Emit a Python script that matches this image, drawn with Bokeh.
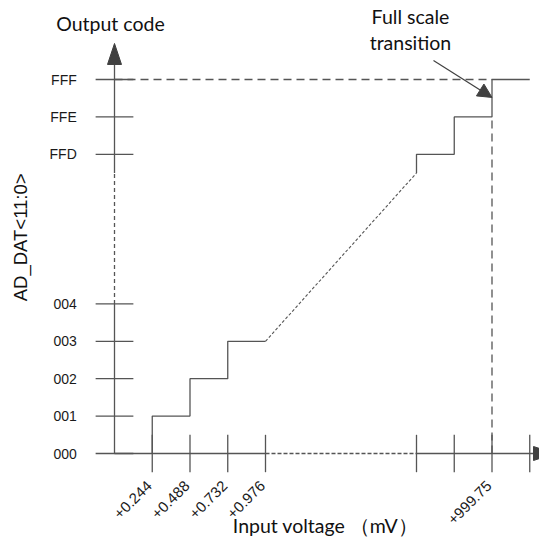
from bokeh.plotting import figure
from bokeh.models import Range1d, Arrow, NormalHead
from bokeh.core.properties import value
from bokeh.embed import file_html
from bokeh.resources import INLINE

# ---------------- data ----------------
code_labels = ["000", "001", "002", "003", "004", "FFD", "FFE", "FFF"]
code_pos = [0, 1, 2, 3, 4, 8, 9, 10]
volt_labels = ["+0.244", "+0.488", "+0.732", "+0.976", "", "", "+999.75", ""]
volt_pos = [1, 2, 3, 4, 8, 9, 10, 11]
low_transitions = [1, 2, 3, 4]          # +0.244 .. +0.976
high_transitions = [8, 9, 10]           # ... +999.75 (full scale)
full_scale_x = 10
x_end = 11

# ---------------- geometry (pixel scale of one slot) ----------------
W, H = 539, 537
SX, SY = 37.75, 37.4        # px per slot
OX, OY = 114.0, 453.0       # canvas px of slot origin
px_x = 1.0 / SX
px_y = 1.0 / SY

p = figure(width=W, height=H,
           x_range=Range1d(-OX / SX, (W - OX) / SX),
           y_range=Range1d(-(H - OY) / SY, OY / SY),
           output_backend="svg", toolbar_location=None,
           x_axis_type=None, y_axis_type=None,
           min_border=0, outline_line_color=None)
p.background_fill_color = "white"
p.border_fill_color = "white"

LC = "#555555"
HC = "#404040"
LW = 1.3

# ---------------- axes ----------------
half_gap_lo = (code_pos[4] + code_pos[3]) / 2 + 0.5    # 4.5
half_gap_hi = code_pos[5] - 0.5                        # 7.5
y_tip = 10.963
y_base = y_tip - 21 * px_y
p.line([0, 0], [0, half_gap_lo], line_color=LC, line_width=LW)
p.line([0, 0], [half_gap_lo, half_gap_hi], line_color=LC, line_width=LW, line_dash="4 3")
p.line([0, 0], [half_gap_hi, y_base], line_color=LC, line_width=LW)
p.patch([-7 * px_x, 0, 7 * px_x], [y_base, y_tip, y_base], fill_color=HC, line_color=HC)

x_base = 11.1
x_tip = x_base + 21 * px_x
p.line([0, low_transitions[-1]], [0, 0], line_color=LC, line_width=LW)
p.line([low_transitions[-1], high_transitions[0]], [0, 0], line_color=LC, line_width=LW, line_dash="4 2")
p.line([high_transitions[0], x_base], [0, 0], line_color=LC, line_width=LW)
p.patch([x_base, x_tip, x_base], [-7 * px_y, 0, 7 * px_y], fill_color=HC, line_color=HC)

# ticks
p.segment(x0=[-0.5] * len(code_pos), x1=[0.5] * len(code_pos), y0=code_pos, y1=code_pos,
          line_color=LC, line_width=LW)
p.segment(x0=volt_pos, x1=volt_pos, y0=[-0.5] * len(volt_pos), y1=[0.5] * len(volt_pos),
          line_color=LC, line_width=LW)

# tick labels
p.text(x=[-1.0] * len(code_pos), y=code_pos, text=code_labels,
       text_align="right", text_baseline="middle",
       text_font=value("Liberation Sans"), text_font_size="14px", text_color="#1a1a1a")
p.text(x=volt_pos, y=[-0.8] * len(volt_pos), text=volt_labels, angle=0.785,
       x_offset=-3, text_align="right", text_baseline="middle",
       text_font=value("Liberation Sans"), text_font_size="15px", text_color="#1a1a1a")

# ---------------- transfer function ----------------
def steps(xs, y0, levels, x_last=None):
    sx, sy = [], []
    y = y0
    for x, lv in zip(xs, levels):
        sx += [x, x]
        sy += [y, lv]
        y = lv
    if x_last is not None:
        sx.append(x_last)
        sy.append(y)
    return sx, sy

lo_levels = code_pos[1:4] + [half_gap_lo - 1.0]                # 1,2,3,3.5
lx, ly = steps(low_transitions, code_pos[0], lo_levels)
p.line(lx, ly, line_color=LC, line_width=LW)

hx, hy = steps(high_transitions, half_gap_hi, code_pos[5:8], x_end)
p.line(hx, hy, line_color=LC, line_width=LW)

p.line([lx[-1], hx[0]], [ly[-1], hy[0]], line_color=LC, line_width=1.1, line_dash="3 2")

# full scale guides
p.line([0, full_scale_x], [code_pos[-1], code_pos[-1]], line_color=LC, line_width=LW, line_dash="8 5")
p.line([full_scale_x, full_scale_x], [0, code_pos[-2]], line_color=LC, line_width=LW, line_dash="8 5")

# annotation arrow
p.add_layout(Arrow(x_start=8.45, y_start=10.51, x_end=full_scale_x, y_end=9.52,
                   line_color=HC, line_width=1.2,
                   end=NormalHead(size=14, fill_color=HC, line_color=HC)))

# ---------------- texts ----------------
TF = value("Lato")
p.text(x=[-0.106], y=[11.50], text=["Output code"], text_align="center", text_baseline="middle",
       text_font=TF, text_font_size="19.5px", text_color="#111111")
p.text(x=[7.84, 7.84], y=[11.68, 10.99], text=["Full scale", "transition"],
       text_align="center", text_baseline="middle",
       text_font=TF, text_font_size="19.5px", text_color="#111111")
p.text(x=[5.59], y=[-1.925], text=["Input voltage （mV）"], text_align="center",
       text_baseline="middle",
       text_font=TF, text_font_size="19.5px", text_color="#111111")
p.text(x=[-2.49], y=[5.78], text=["AD_DAT<11:0>"], angle=1.5708,
       text_align="center", text_baseline="middle",
       text_font=value("Liberation Sans"), text_font_size="18.5px", text_color="#111111")

open("out.html", "w").write(file_html(p, INLINE))
